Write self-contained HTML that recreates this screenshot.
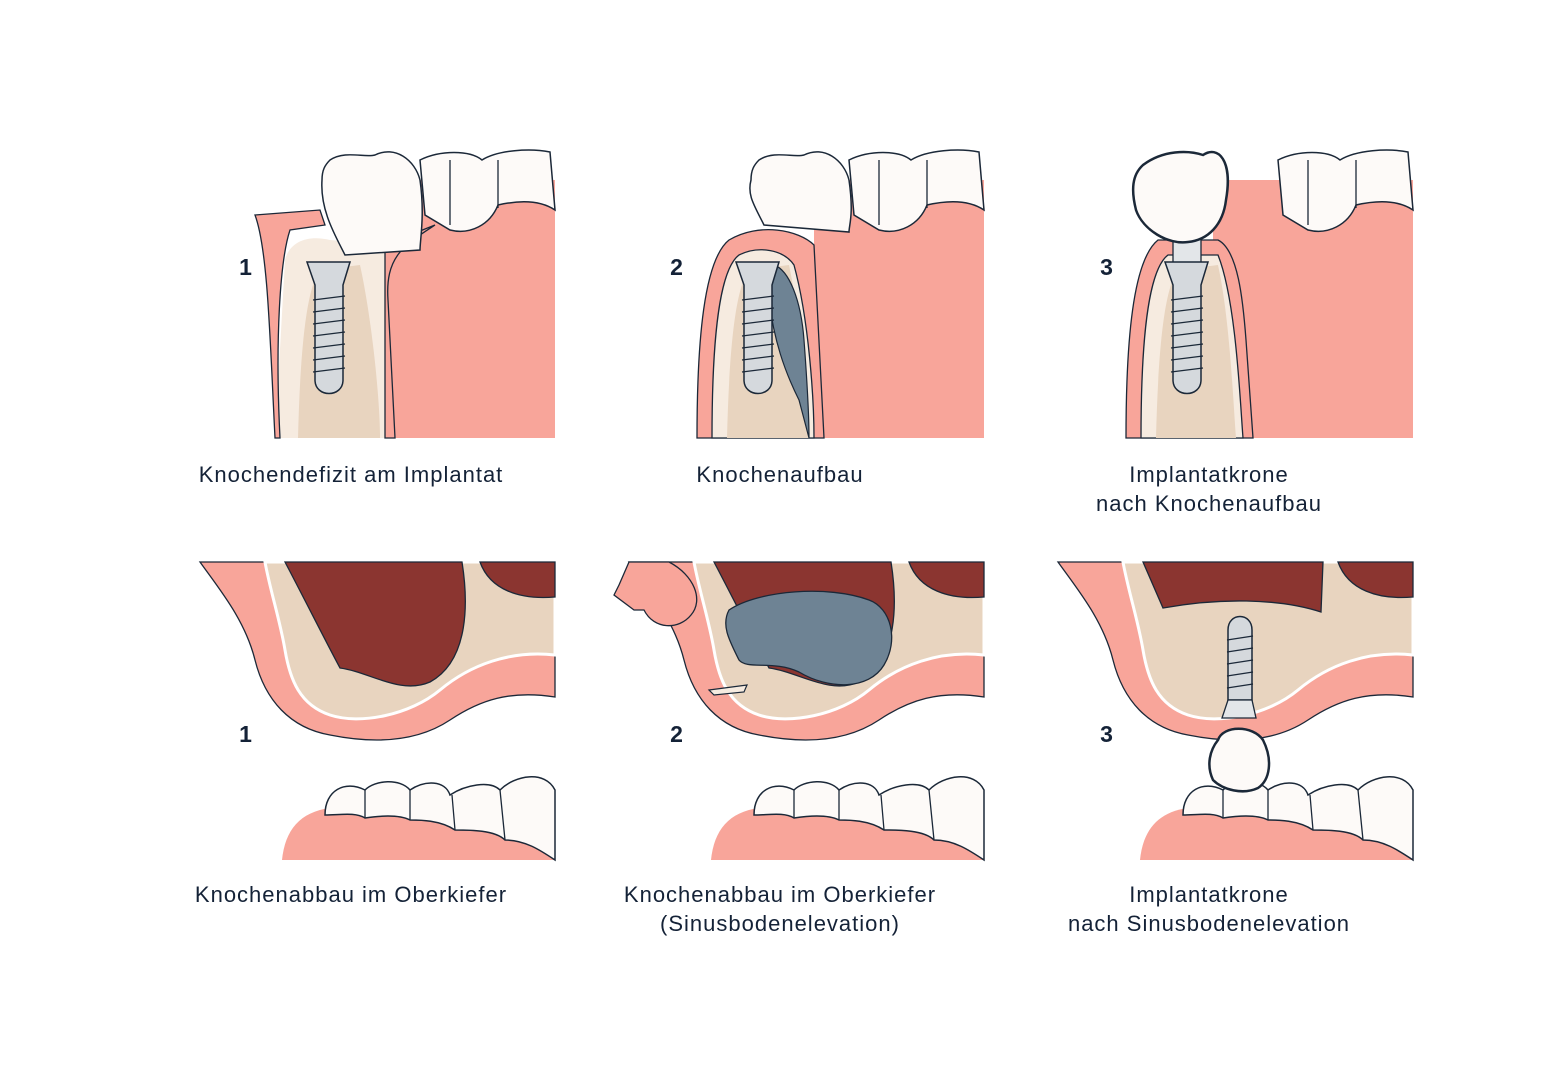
<!DOCTYPE html>
<html><head><meta charset="utf-8"><style>
html,body{margin:0;padding:0;background:#fff;width:1560px;height:1080px;overflow:hidden}
svg{position:absolute;left:0;top:0}
text{font-family:"Liberation Sans",sans-serif;fill:#142237;letter-spacing:1px}
</style></head><body>
<svg width="1560" height="1080" viewBox="0 0 1560 1080" xmlns="http://www.w3.org/2000/svg">
<defs>
<g id="topTeeth">
  <path d="M420,160 C440,150 470,150 482,160 C498,150 530,148 550,152 L555,210 C540,200 520,200 498,205 C490,225 470,235 450,230 L425,215 Z" fill="#fdfaf8" stroke="#1b2838" stroke-width="1.5"/>
  <path d="M450,160 L450,225 M498,160 L498,208" stroke="#1b2838" stroke-width="1.3" fill="none"/>
</g>
<g id="topBase">
  <rect x="385" y="180" width="170" height="258" fill="#f8a59a"/>
  <use href="#topTeeth"/>
</g>
<g id="lowerJaw">
  <path d="M282,860 C285,830 300,812 330,808 L555,790 L555,860 Z" fill="#f8a59a"/>
  <path d="M325,815 C325,790 345,780 365,790 C375,780 400,778 410,790 C425,780 445,780 450,795 C465,785 490,780 500,790 C515,775 545,770 555,790 L555,860 C540,850 525,840 505,840 C495,830 470,830 455,830 C440,820 420,820 410,820 C400,815 385,815 365,818 C355,812 340,815 325,815 Z" fill="#fdfaf8" stroke="#1b2838" stroke-width="1.5"/>
  <path d="M365,790 L365,818 M410,790 L410,820 M452,795 L455,830 M500,790 L505,840" stroke="#1b2838" stroke-width="1.3" fill="none"/>
</g>
<g id="bandBottom">
  <path d="M200,562 L555,562 L555,697 C510,690 480,700 450,720 C420,740 380,745 330,735 C290,728 265,700 255,660 C245,620 220,590 200,562 Z" fill="#f8a59a" stroke="#1b2838" stroke-width="1.3"/>
  <path d="M265,562 L555,562 L555,655 C510,650 470,665 440,690 C410,715 360,725 330,715 C300,705 290,680 285,650 C280,620 270,590 265,562 Z" fill="#e8d4bf" stroke="#fff" stroke-width="3"/>
  <path d="M480,562 L555,562 L555,597 C520,600 490,590 480,562 Z" fill="#8b3530" stroke="#1b2838" stroke-width="1.3"/>
</g>
<g id="sinus">
  <path d="M285,562 L462,562 C468,600 470,660 430,682 C400,695 370,672 340,668 C325,640 305,600 285,562 Z" fill="#8b3530" stroke="#1b2838" stroke-width="1.3"/>
</g>
<g id="implant">
  <path d="M307,262 L350,262 L343,285 L343,380 C343,398 315,398 315,380 L315,285 Z" fill="#d5d9dd" stroke="#1b2838" stroke-width="1.5"/>
  <path d="M313,300 L345,296 M313,312 L345,308 M313,324 L345,320 M313,336 L345,332 M313,348 L345,344 M313,360 L345,356 M313,372 L345,368" stroke="#1b2838" stroke-width="1.2"/>
</g>
</defs>

<!-- Top panel 1 -->
<g>
  <use href="#topBase"/>
  <path d="M275,438 L285,260 C290,240 310,235 330,240 L385,245 L395,438 Z" fill="#f6ebe0"/>
  <path d="M298,438 C300,360 305,290 320,270 L360,265 C372,320 380,400 380,438 Z" fill="#e8d4bf"/>
  <path d="M255,215 L320,210 L325,225 L290,230 C280,260 275,340 280,438 L275,438 C270,340 268,250 255,215 Z" fill="#f8a59a" stroke="#1b2838" stroke-width="1.3"/>
  <path d="M385,245 L435,225 C405,245 385,255 388,300 L395,438 L385,438 Z" fill="#f8a59a" stroke="#1b2838" stroke-width="1.3"/>
  <path d="M330,160 C345,150 365,158 375,155 C395,145 415,160 420,180 C425,215 420,240 420,250 L345,255 C335,235 320,210 322,180 C322,170 325,165 330,160 Z" fill="#fdfaf8" stroke="#1b2838" stroke-width="1.5"/>
  <use href="#implant"/>
</g>
<text x="246" y="275" font-size="23" font-weight="bold" text-anchor="middle">1</text>
<text x="351" y="482" font-size="22" text-anchor="middle">Knochendefizit am Implantat</text>

<!-- Top panel 2 -->
<g transform="translate(429,0)">
  <use href="#topBase"/>
  <path d="M268,438 C268,340 275,260 300,240 C330,222 370,230 385,245 L395,438 Z" fill="#f8a59a" stroke="#1b2838" stroke-width="1.3"/>
  <path d="M283,438 C283,340 290,270 310,255 C330,245 355,250 365,265 C380,320 385,400 385,438 Z" fill="#f6ebe0" stroke="#1b2838" stroke-width="1.3"/>
  <path d="M298,438 C300,360 305,290 320,270 L360,265 C372,320 375,400 380,438 Z" fill="#e8d4bf"/>
  <path d="M345,265 C360,270 372,300 375,340 C378,380 380,420 380,438 L370,400 C355,370 345,340 340,300 Z" fill="#6e8394" stroke="#1b2838" stroke-width="1.2"/>
  <path d="M330,160 C345,150 365,158 375,155 C395,145 415,160 420,180 C425,215 420,225 420,232 L335,225 C325,205 318,195 322,180 C322,170 325,165 330,160 Z" fill="#fdfaf8" stroke="#1b2838" stroke-width="1.5"/>
  <use href="#implant"/>
</g>
<text x="677" y="275" font-size="23" font-weight="bold" text-anchor="middle">2</text>
<text x="780" y="482" font-size="22" text-anchor="middle">Knochenaufbau</text>

<!-- Top panel 3 -->
<g transform="translate(858,0)">
  <rect x="355" y="180" width="200" height="258" fill="#f8a59a"/>
  <use href="#topTeeth"/>
  <path d="M268,438 C268,340 275,260 300,240 L360,240 C380,250 385,300 388,340 L395,438 Z" fill="#f8a59a" stroke="#1b2838" stroke-width="1.3"/>
  <path d="M283,438 C283,340 290,270 310,255 L360,255 C378,300 382,400 385,438 Z" fill="#f6ebe0" stroke="#1b2838" stroke-width="1.3"/>
  <path d="M298,438 C300,360 305,290 320,270 L360,265 C372,320 375,400 378,438 Z" fill="#e8d4bf"/>
  <rect x="315" y="235" width="28" height="30" fill="#e3e6e9" stroke="#1b2838" stroke-width="1.3"/>
  <use href="#implant"/>
  <path d="M285,165 C305,150 330,150 345,155 C360,145 375,160 368,200 C365,225 350,240 330,242 C310,245 285,230 278,210 C273,190 274,175 285,165 Z" fill="#fdfaf8" stroke="#1b2838" stroke-width="2.5"/>
</g>
<text x="1107" y="275" font-size="23" font-weight="bold" text-anchor="middle">3</text>
<text x="1209" y="482" font-size="22" text-anchor="middle">Implantatkrone</text>
<text x="1209" y="511" font-size="22" text-anchor="middle">nach Knochenaufbau</text>

<!-- Bottom panel 1 -->
<use href="#bandBottom"/>
<use href="#sinus"/>
<use href="#lowerJaw"/>
<text x="246" y="742" font-size="23" font-weight="bold" text-anchor="middle">1</text>
<text x="351" y="902" font-size="22" text-anchor="middle">Knochenabbau im Oberkiefer</text>

<!-- Bottom panel 2 -->
<g transform="translate(429,0)">
  <use href="#bandBottom"/>
  <use href="#sinus"/>
  <path d="M300,610 C330,590 400,585 440,600 C462,608 470,640 455,665 C440,690 400,690 370,672 C345,660 318,670 310,660 C300,640 292,625 300,610 Z" fill="#6e8394" stroke="#1b2838" stroke-width="1.3"/>
  <path d="M200,562 L240,562 C265,575 275,600 262,615 C250,630 225,630 215,610 L205,610 L185,595 L190,585 Z" fill="#f8a59a" stroke="#1b2838" stroke-width="1.3"/>
  <path d="M280,690 L318,685 L315,692 L285,695 Z" fill="#f6ebe0" stroke="#1b2838" stroke-width="1.2"/>
  <use href="#lowerJaw"/>
</g>
<text x="677" y="742" font-size="23" font-weight="bold" text-anchor="middle">2</text>
<text x="780" y="902" font-size="22" text-anchor="middle">Knochenabbau im Oberkiefer</text>
<text x="780" y="931" font-size="22" text-anchor="middle">(Sinusbodenelevation)</text>

<!-- Bottom panel 3 -->
<g transform="translate(858,0)">
  <use href="#bandBottom"/>
  <path d="M285,562 L465,562 L463,612 C420,598 360,598 305,608 Z" fill="#8b3530" stroke="#1b2838" stroke-width="1.3"/>
  <use href="#lowerJaw"/>
</g>
<path d="M1228,630 C1228,612 1252,612 1252,630 L1252,700 L1228,700 Z" fill="#d5d9dd" stroke="#1b2838" stroke-width="1.5"/>
<path d="M1227,640 L1253,636 M1227,652 L1253,648 M1227,664 L1253,660 M1227,676 L1253,672 M1227,688 L1253,684" stroke="#1b2838" stroke-width="1.2"/>
<path d="M1228,700 L1252,700 L1256,718 L1222,718 Z" fill="#e3e6e9" stroke="#1b2838" stroke-width="1.3"/>
<path d="M1218,740 C1223,725 1253,725 1263,740 C1273,760 1270,780 1258,788 C1243,795 1223,790 1213,780 C1206,765 1210,750 1218,740 Z" fill="#fdfaf8" stroke="#1b2838" stroke-width="2.5"/>
<text x="1107" y="742" font-size="23" font-weight="bold" text-anchor="middle">3</text>
<text x="1209" y="902" font-size="22" text-anchor="middle">Implantatkrone</text>
<text x="1209" y="931" font-size="22" text-anchor="middle">nach Sinusbodenelevation</text>
</svg>
</body></html>
